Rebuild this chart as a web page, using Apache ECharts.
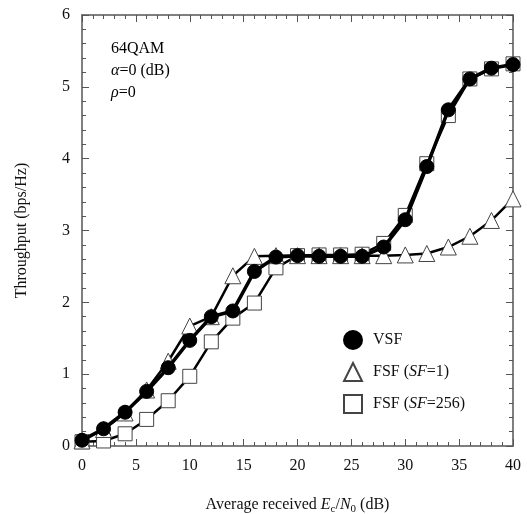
<!DOCTYPE html>
<html>
<head>
<meta charset="utf-8">
<script src="https://cdn.jsdelivr.net/npm/echarts@6/dist/echarts.min.js"></script>
<style>
  html, body { margin: 0; padding: 0; background: #fff; }
  #chart { width: 527px; height: 514px; }
</style>
</head>
<body>
<div id="chart"></div>
<script>
// Eb/N0 (dB) points
var snr = [0, 2, 4, 6, 8, 10, 12, 14, 16, 18, 20, 22, 24, 26, 28, 30, 32, 34, 36, 38, 40];
var vsf = [0.08, 0.24, 0.47, 0.76, 1.09, 1.47, 1.80, 1.88, 2.43, 2.63, 2.65, 2.64, 2.64, 2.64, 2.77, 3.15, 3.89, 4.68, 5.11, 5.26, 5.31];
var fsf1 = [0.07, 0.23, 0.46, 0.78, 1.18, 1.67, 1.80, 2.37, 2.64, 2.65, 2.65, 2.65, 2.65, 2.65, 2.65, 2.66, 2.68, 2.77, 2.92, 3.14, 3.44];
var fsf256 = [0.06, 0.07, 0.17, 0.37, 0.63, 0.97, 1.45, 1.78, 1.99, 2.48, 2.65, 2.66, 2.66, 2.67, 2.82, 3.21, 3.93, 4.60, 5.11, 5.25, 5.32];
var xTicks = [0, 5, 10, 15, 20, 25, 30, 35, 40];
var yTicks = [0, 1, 2, 3, 4, 5, 6];

var font = '"Liberation Serif", "Times New Roman", serif';
var axisColor = '#555';

function pairs(ys) {
    return snr.map(function (x, i) { return [x, ys[i]]; });
}

var chart = echarts.init(document.getElementById('chart'));

// shared axis look, the top/right copies only draw ticks
function xAxis(pos, labels) {
    return {
        type: 'value', position: pos, min: xTicks[0], max: xTicks[xTicks.length - 1], interval: 5,
        axisLine: { show: true, onZero: false, lineStyle: { color: axisColor, width: 1.5 } },
        axisTick: { show: true, inside: true, length: 7, lineStyle: { color: axisColor } },
        minorTick: { show: true, splitNumber: 5, length: 4, lineStyle: { color: axisColor } },
        axisLabel: { show: labels, color: '#111', fontFamily: font, fontSize: 16, margin: 12 },
        splitLine: { show: false }
    };
}
function yAxis(pos, labels) {
    return {
        type: 'value', position: pos, min: yTicks[0], max: yTicks[yTicks.length - 1], interval: 1,
        axisLine: { show: true, onZero: false, lineStyle: { color: axisColor, width: 1.5 } },
        axisTick: { show: true, inside: true, length: 7, lineStyle: { color: axisColor } },
        minorTick: { show: true, splitNumber: 5, length: 4, lineStyle: { color: axisColor } },
        axisLabel: { show: labels, color: '#111', fontFamily: font, fontSize: 16, margin: 12 },
        splitLine: { show: false }
    };
}

var xa = xAxis('bottom', true);
xa.name = '{n|Average received }{i|E}{s|c}{n|/}{i|N}{s|0}{n| (dB)}';
xa.nameLocation = 'middle';
xa.nameGap = 48;
xa.nameTextStyle = {
    rich: {
        n: { fontFamily: font, fontSize: 16, color: '#111' },
        i: { fontFamily: font, fontSize: 16, fontStyle: 'italic', color: '#111' },
        s: { fontFamily: font, fontSize: 11, color: '#111', verticalAlign: 'bottom', padding: [10, 0, 0, 0] }
    }
};
var ya = yAxis('left', true);
ya.name = 'Throughput (bps/Hz)';
ya.nameLocation = 'middle';
ya.nameGap = 52;
ya.nameTextStyle = { fontFamily: font, fontSize: 16, color: '#111' };

var option = {
    backgroundColor: '#fff',
    animation: false,
    grid: { left: 82, right: 14, top: 15, bottom: 68, outerBoundsMode: 'none', containLabel: false },
    xAxis: [xa, xAxis('top', false)],
    yAxis: [ya, yAxis('right', false)],
    legend: {
        orient: 'vertical', left: 338, top: 325, itemGap: 12,
        itemWidth: 18, itemHeight: 18,
        textStyle: {
            fontFamily: font, fontSize: 16, color: '#111', padding: [0, 0, 0, 6],
            rich: {
                n: { fontFamily: font, fontSize: 16, color: '#111' },
                i: { fontFamily: font, fontSize: 16, fontStyle: 'italic', color: '#111' }
            }
        },
        formatter: function (name) {
            if (name === 'VSF') return '{n|VSF}';
            var sf = name.indexOf('256') >= 0 ? '256' : '1';
            return '{n|FSF (}{i|SF}{n|=' + sf + ')}';
        },
        data: [
            { name: 'VSF', icon: 'circle' },
            { name: 'FSF (SF=1)', icon: 'triangle' },
            { name: 'FSF (SF=256)', icon: 'rect' }
        ]
    },
    graphic: [{
        type: 'text', left: 111, top: 38,
        style: {
            text: '{n|64QAM}\n{i|α}{n|=0 (dB)}\n{i|ρ}{n|=0}',
            lineHeight: 22,
            rich: {
                n: { fontFamily: font, fontSize: 16, color: '#111', lineHeight: 22 },
                i: { fontFamily: font, fontSize: 16, fontStyle: 'italic', color: '#111', lineHeight: 22 }
            }
        }
    }],
    series: [{
        name: 'VSF', type: 'line', data: pairs(vsf), z: 5,
        symbol: 'circle', symbolSize: 14,
        lineStyle: { color: '#000', width: 3.5 },
        itemStyle: { color: '#000', borderColor: '#000', borderWidth: 1 }
    }, {
        name: 'FSF (SF=1)', type: 'line', data: pairs(fsf1), z: 4,
        symbol: 'triangle', symbolSize: 16,
        lineStyle: { color: '#000', width: 2.5 },
        itemStyle: { color: '#fff', borderColor: '#444', borderWidth: 1 }
    }, {
        name: 'FSF (SF=256)', type: 'line', data: pairs(fsf256), z: 3,
        symbol: 'rect', symbolSize: 14,
        lineStyle: { color: '#000', width: 2.5 },
        itemStyle: { color: '#fff', borderColor: '#444', borderWidth: 1 }
    }]
};

chart.setOption(option);
</script>
</body>
</html>
